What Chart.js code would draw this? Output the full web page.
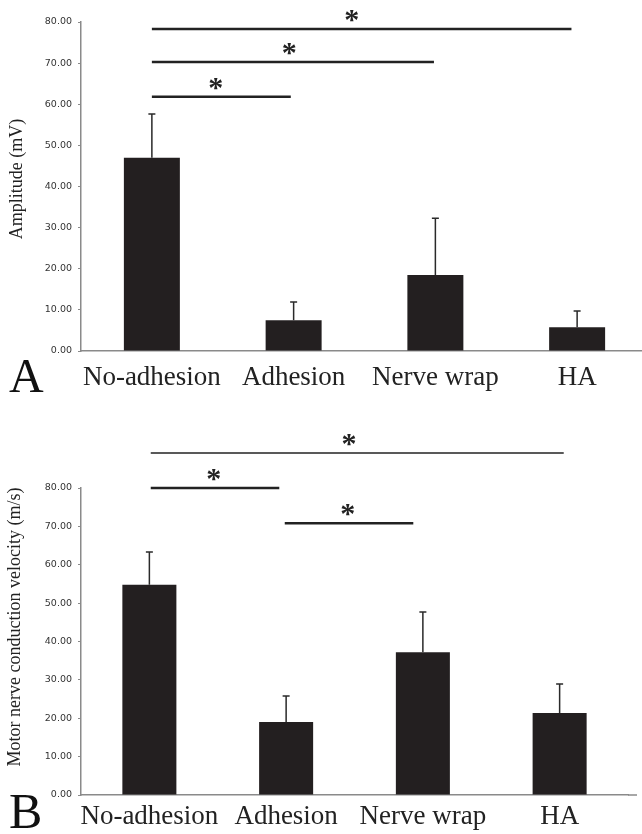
<!DOCTYPE html>
<html>
<head>
<meta charset="utf-8">
<script src="https://cdn.jsdelivr.net/npm/chart.js@4/dist/chart.umd.min.js"></script>
<style>
  html, body { margin: 0; padding: 0; background: #ffffff; overflow: hidden; width: 642px; height: 834px; }
  #wrapA { position: absolute; left: 0; top: 0; }
  #wrapB { position: absolute; left: 0; top: 420px; }
</style>
</head>
<body>
<div id="wrapA"><canvas id="chartA" width="660" height="420"></canvas></div>
<div id="wrapB"><canvas id="chartB" width="642" height="414"></canvas></div>
<script>
// ---------- data ----------
const categories = ["No-adhesion", "Adhesion", "Nerve wrap", "HA"];
const yTicks = [0, 10, 20, 30, 40, 50, 60, 70, 80];

// Panel A: amplitude (mV)
const amplitudeMean = [47.0, 7.5, 18.5, 5.8];
const amplitudeSD   = [10.6, 4.4, 13.8, 3.9];
// significance brackets (category index from/to, height in mV)
const sigAFrom   = [0, 0, 0];
const sigATo     = [2.96, 1.99, 0.98];
const sigAValue  = [78.3, 70.3, 61.8];
const sigAStarAt = [1.41, 0.97, 0.45];

// Panel B: motor nerve conduction velocity (m/s)
const velocityMean = [54.8, 19.0, 37.2, 21.4];
const velocitySD   = [8.5, 6.8, 10.5, 7.5];
const sigBFrom   = [0.01, 0.01, 0.99];
const sigBTo     = [3.03, 0.95, 1.93];
const sigBValue  = [89.1, 80.0, 70.8];
const sigBStarAt = [1.46, 0.47, 1.45];

// ---------- drawing helpers ----------
const BAR = '#231f20';
const AXIS = '#8a8a8a';
const TEXT = '#222222';

function catPixel(xs, pos) {
  const p0 = xs.getPixelForValue(0);
  const p1 = xs.getPixelForValue(1);
  return p0 + (p1 - p0) * pos;
}

function overlay(opts) {
  return {
    id: 'overlay' + opts.letter,
    afterDatasetsDraw(chart) {
      const ctx = chart.ctx, xs = chart.scales.x, ys = chart.scales.y;
      ctx.save();
      ctx.strokeStyle = '#2a2a2a';
      ctx.lineWidth = 1.5;
      opts.mean.forEach((m, i) => {
        const x = xs.getPixelForValue(i);
        const y0 = ys.getPixelForValue(m);
        const y1 = ys.getPixelForValue(m + opts.sd[i]);
        ctx.beginPath();
        ctx.moveTo(x, y0); ctx.lineTo(x, y1);
        ctx.moveTo(x - 3.5, y1); ctx.lineTo(x + 3.5, y1);
        ctx.stroke();
      });
      ctx.restore();
    },
    afterDraw(chart) {
      const ctx = chart.ctx, xs = chart.scales.x, ys = chart.scales.y, ca = chart.chartArea;
      ctx.save();
      // baseline continues slightly past the last category
      if (opts.axisExtend > 0) {
        ctx.strokeStyle = AXIS;
        ctx.lineWidth = 1.5;
        ctx.beginPath();
        ctx.moveTo(ca.right, ca.bottom);
        ctx.lineTo(ca.right + opts.axisExtend, ca.bottom);
        ctx.stroke();
      }
      // significance brackets
      opts.from.forEach((f, i) => {
        const y = ys.getPixelForValue(opts.value[i]);
        ctx.strokeStyle = '#222';
        ctx.lineWidth = opts.lineW[i];
        ctx.beginPath();
        ctx.moveTo(catPixel(xs, f), y);
        ctx.lineTo(catPixel(xs, opts.to[i]), y);
        ctx.stroke();
        // asterisk
        ctx.font = 'bold 30px "Liberation Serif", "Times New Roman", serif';
        ctx.fillStyle = '#222';
        ctx.textAlign = 'center';
        ctx.textBaseline = 'alphabetic';
        const m = ctx.measureText('*');
        const cy = y - opts.starGap;
        const off = (m.actualBoundingBoxAscent - m.actualBoundingBoxDescent) / 2;
        ctx.fillText('*', catPixel(xs, opts.starAt[i]), cy + off);
      });
      // y axis title
      ctx.save();
      ctx.font = '18px "Liberation Serif", "Times New Roman", serif';
      ctx.fillStyle = TEXT;
      ctx.textAlign = 'center';
      ctx.textBaseline = 'middle';
      ctx.translate(opts.titleX, opts.titleY);
      ctx.rotate(-Math.PI / 2);
      ctx.fillText(opts.title, 0, 0);
      ctx.restore();
      // panel letter
      ctx.font = opts.letterSize + 'px "Liberation Serif", "Times New Roman", serif';
      ctx.fillStyle = '#111';
      ctx.textAlign = 'left';
      ctx.textBaseline = 'alphabetic';
      ctx.fillText(opts.letter, 9, opts.letterBase);
      ctx.restore();
    }
  };
}

function makeChart(id, o) {
  return new Chart(document.getElementById(id), {
    type: 'bar',
    data: {
      labels: categories,
      datasets: [{
        data: o.mean,
        backgroundColor: BAR,
        borderWidth: 0,
        barPercentage: 0.395,
        categoryPercentage: 1.0
      }]
    },
    options: {
      responsive: false,
      animation: false,
      devicePixelRatio: 1,
      layout: { padding: { left: 0, top: o.padTop, right: o.padRight, bottom: 0 } },
      plugins: { legend: { display: false }, tooltip: { enabled: false } },
      scales: {
        x: {
          grid: { display: false, drawTicks: false },
          border: { display: true, color: AXIS, width: 1.5 },
          ticks: {
            color: TEXT,
            padding: o.xPad,
            maxRotation: 0,
            autoSkip: false,
            font: { family: '"Liberation Serif", "Times New Roman", serif', size: 27 }
          },
          afterFit(s) { s.height = o.xHeight; }
        },
        y: {
          min: 0, max: 80,
          afterBuildTicks(s) { s.ticks = yTicks.map(v => ({ value: v })); },
          grid: { drawOnChartArea: false, drawTicks: true, tickLength: 3, color: AXIS, lineWidth: 1 },
          border: { display: true, color: AXIS, width: 1.5 },
          ticks: {
            color: '#333',
            padding: 6,
            font: { family: '"DejaVu Sans", Verdana, sans-serif', size: 9.5 },
            callback: v => Number(v).toFixed(2)
          },
          afterFit(s) { s.width = 81; }
        }
      }
    },
    plugins: [overlay(o)]
  });
}

makeChart('chartA', {
  letter: 'A', mean: amplitudeMean, sd: amplitudeSD,
  from: sigAFrom, to: sigATo, value: sigAValue, starAt: sigAStarAt,
  lineW: [2.5, 2.5, 2.5], starGap: 13, axisExtend: 0,
  title: 'Amplitude (mV)', titleX: 17, titleY: 179,
  letterSize: 48, letterBase: 392,
  padTop: 22, padRight: 12, xHeight: 69, xPad: 11
});

makeChart('chartB', {
  letter: 'B', mean: velocityMean, sd: velocitySD,
  from: sigBFrom, to: sigBTo, value: sigBValue, starAt: sigBStarAt,
  lineW: [1.5, 2.5, 2.5], starGap: 13, axisExtend: 9,
  title: 'Motor nerve conduction velocity (m/s)', titleX: 15, titleY: 207,
  letterSize: 50, letterBase: 408,
  padTop: 68, padRight: 14, xHeight: 39, xPad: 6
});
</script>
</body>
</html>
